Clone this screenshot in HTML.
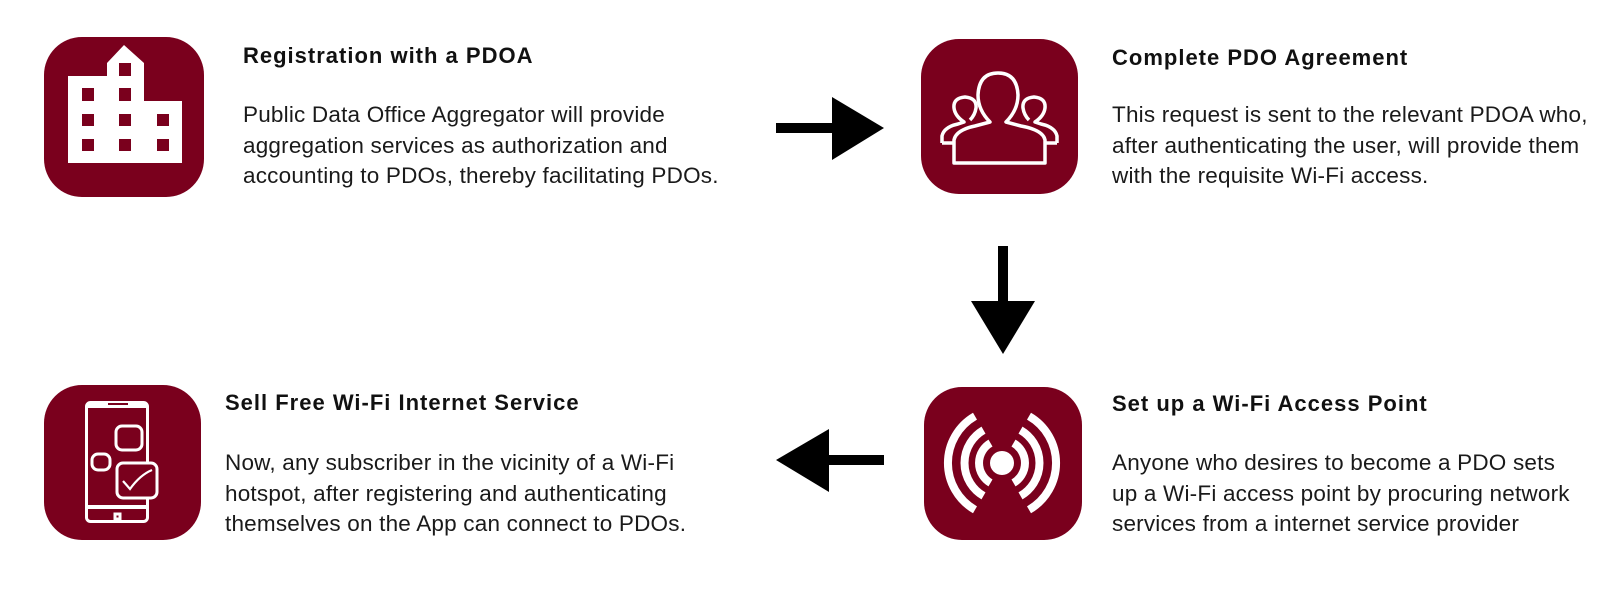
<!DOCTYPE html>
<html><head><meta charset="utf-8"><style>
html,body{margin:0;padding:0;background:#fff;}
body{width:1600px;height:593px;position:relative;overflow:hidden;font-family:"Liberation Sans",sans-serif;color:#111;}
.t{position:absolute;font-weight:bold;font-size:22px;letter-spacing:1px;white-space:nowrap;line-height:1;}
.b{position:absolute;font-size:22.5px;letter-spacing:0.2px;line-height:30.5px;white-space:nowrap;color:#1a1a1a;}
svg{position:absolute;left:0;top:0;}
</style></head><body>
<svg width="1600" height="593" viewBox="0 0 1600 593">
 <g fill="#7a001d">
  <rect x="44" y="37" width="160" height="160" rx="38"/>
  <rect x="921" y="39" width="157" height="155" rx="38"/>
  <rect x="44" y="385" width="157" height="155" rx="38"/>
  <rect x="924" y="387" width="158" height="153" rx="38"/>
 </g>
 <g fill="#fff">
  <path d="M68 76 H107 V63 L124 45 L144 63 V101 H182 V163 H68 Z"/>
 </g>
 <g fill="#7a001d">
  <rect x="119" y="63" width="12" height="13"/>
  <rect x="82" y="88" width="12" height="13"/><rect x="119" y="88" width="12" height="13"/>
  <rect x="82" y="114" width="12" height="12"/><rect x="119" y="114" width="12" height="12"/><rect x="157" y="114" width="12" height="12"/>
  <rect x="82" y="139" width="12" height="12"/><rect x="119" y="139" width="12" height="12"/><rect x="157" y="139" width="12" height="12"/>
 </g>
 <g fill="none" stroke="#fff" stroke-width="3.5" stroke-linejoin="round">
  <path d="M942 143 V136 Q944 127 958 124 L964 122 Q955 116 954 108 Q953 98 965 97 Q977 98 976 108 Q975 115 970 120"/>
  <path d="M1057 143 V136 Q1055 127 1041 124 L1035 122 Q1044 116 1045 108 Q1046 98 1034 97 Q1022 98 1023 108 Q1024 115 1029 120"/>
  <path d="M942 143 H954"/><path d="M1045 143 H1057"/>
  <path d="M954 163 V140 Q956 130 975 126 L990 122 Q978 110 978 95 Q979 73 998 73 Q1017 73 1018 95 Q1018 110 1006 122 L1021 126 Q1043 130 1045 140 V163 Z"/>
 </g>
 <g fill="none" stroke="#fff" stroke-width="3">
  <rect x="86.5" y="402.5" width="61" height="119" rx="4"/>
  <rect x="116" y="426" width="26" height="24" rx="6"/>
  <rect x="92" y="454" width="18" height="16" rx="6"/>
  <rect x="115" y="514" width="5" height="5"/>
 </g>
 <rect x="88" y="404" width="58" height="4" fill="#fff"/>
 <rect x="88" y="505" width="58" height="4" fill="#fff"/>
 <rect x="108" y="403" width="20" height="2" fill="#7a001d"/>
 <rect x="117" y="463" width="40" height="35" rx="6" fill="#7a001d" stroke="#fff" stroke-width="3"/>
 <path d="M123 481 L130 489 Q140 475 152 470" fill="none" stroke="#fff" stroke-width="2.2"/>
 <g fill="none" stroke="#fff" stroke-width="8">
  <circle cx="1002" cy="463" r="12" fill="#fff" stroke="none"/>
  <path d="M990.5 443.1 A23 23 0 0 0 990.5 482.9"/>
  <path d="M1013.5 443.1 A23 23 0 0 1 1013.5 482.9"/>
  <path d="M983.5 430.1 A38 38 0 0 0 983.5 495.9"/>
  <path d="M1020.5 430.1 A38 38 0 0 1 1020.5 495.9"/>
  <path d="M975 416.2 A54 54 0 0 0 975 509.8"/>
  <path d="M1029 416.2 A54 54 0 0 1 1029 509.8"/>
 </g>
 <g fill="#000">
  <rect x="776" y="123" width="57" height="10"/>
  <polygon points="832,97 884,128 832,160"/>
  <rect x="998" y="246" width="10" height="56"/>
  <polygon points="971,301 1035,301 1003,354"/>
  <rect x="828" y="455" width="56" height="10"/>
  <polygon points="829,429 776,460 829,492"/>
 </g>
</svg>
<div class="t" style="left:243px;top:45px;">Registration with a PDOA</div>
<div class="b" style="left:243px;top:100px;">Public Data Office Aggregator will provide<br>aggregation services as authorization and<br>accounting to PDOs, thereby facilitating PDOs.</div>
<div class="t" style="left:1112px;top:47px;">Complete PDO Agreement</div>
<div class="b" style="left:1112px;top:100px;">This request is sent to the relevant PDOA who,<br>after authenticating the user, will provide them<br>with the requisite Wi-Fi access.</div>
<div class="t" style="left:225px;top:392px;">Sell Free Wi-Fi Internet Service</div>
<div class="b" style="left:225px;top:448px;">Now, any subscriber in the vicinity of a Wi-Fi<br>hotspot, after registering and authenticating<br>themselves on the App can connect to PDOs.</div>
<div class="t" style="left:1112px;top:393px;">Set up a Wi-Fi Access Point</div>
<div class="b" style="left:1112px;top:448px;">Anyone who desires to become a PDO sets<br>up a Wi-Fi access point by procuring network<br>services from a internet service provider</div>
</body></html>
